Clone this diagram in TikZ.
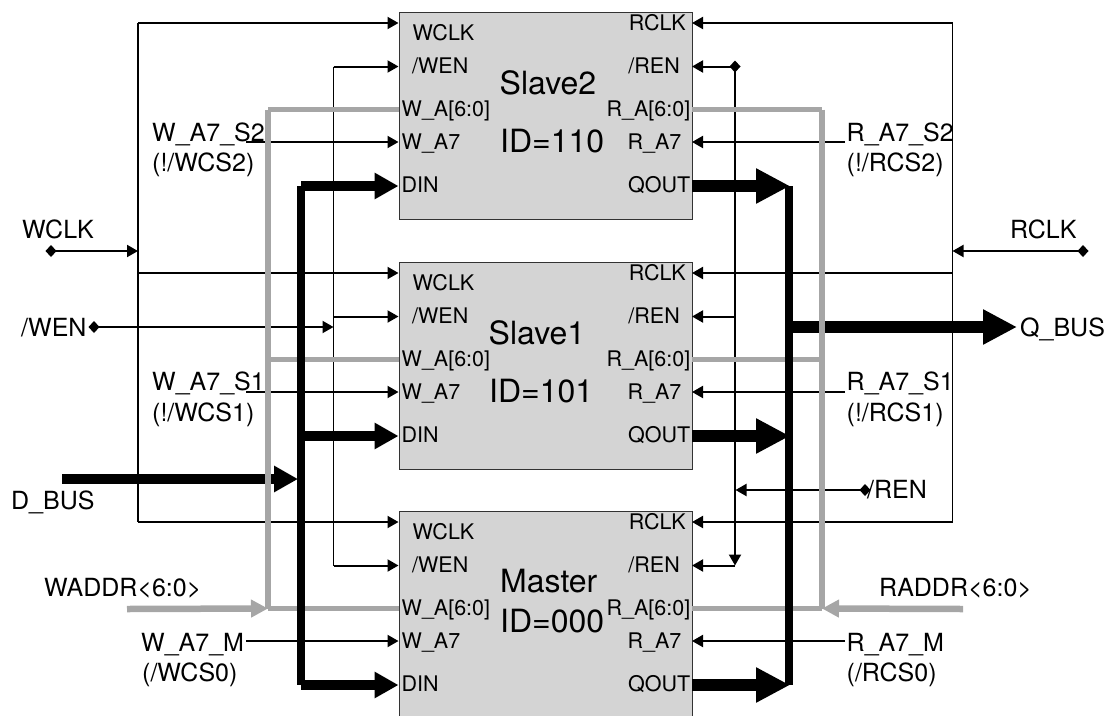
\documentclass[tikz,border=0pt]{standalone}
\usepackage{fontspec}
\setmainfont{TeX Gyre Heros}
\usetikzlibrary{arrows.meta}
\definecolor{busgray}{HTML}{A6A6A6}
\definecolor{blockgray}{HTML}{D4D4D4}
\tikzset{
  blockbox/.style={draw=black!80,line width=1pt,fill=blockgray,rectangle,inner sep=0pt,minimum width=293.5pt,minimum height=206.5pt,anchor=north west},
  outlab/.style={inner sep=0pt,anchor=base west,font=\fontsize{25}{25}\selectfont},
  pinl/.style={inner sep=0pt,anchor=base west,font=\fontsize{21.5}{21.5}\selectfont},
  pinr/.style={inner sep=0pt,anchor=base east,font=\fontsize{21.5}{21.5}\selectfont},
  biglab/.style={inner sep=0pt,anchor=base west,font=\fontsize{32}{32}\selectfont},
  wire/.style={line width=1.5pt,draw=black},
  sig/.style={line width=2pt,draw=black,-{Triangle[length=11pt,width=12pt]}},
  insig/.style={line width=2pt,draw=black,{Diamond[length=11pt,width=12pt]}-{Triangle[length=11pt,width=12pt]}},
  graybus/.style={line width=5.2pt,draw=busgray},
  grayin/.style={line width=6.5pt,draw=busgray,-{Triangle[length=17pt,width=17pt,fill=busgray,color=busgray]}},
  blackbus/.style={line width=8pt,draw=black},
  dinarrow/.style={line width=9.5pt,draw=black,-{Triangle[length=24pt,width=25pt]}},
  qarrow/.style={line width=11.5pt,draw=black,-{Triangle[length=34pt,width=33pt]}},
}
\begin{document}
\begin{tikzpicture}[x=1pt,y=-1pt]
\useasboundingbox (0,0) rectangle (1107,715);
\clip (0,0) rectangle (1107,715);
% blocks and their ports
\foreach \b/\T in {s2/12,s1/262,m/511}{
  \node[blockbox] (\b) at (398.5,\T) {};
  \coordinate (\b-wclk) at (398.5,\T+11);
  \coordinate (\b-wen)  at (398.5,\T+54.5);
  \coordinate (\b-wa)   at (398.5,\T+97.5);
  \coordinate (\b-wa7)  at (398.5,\T+130);
  \coordinate (\b-din)  at (398.5,\T+174);
  \coordinate (\b-rclk) at (692,\T+11);
  \coordinate (\b-ren)  at (692,\T+54.5);
  \coordinate (\b-ra)   at (692,\T+97.5);
  \coordinate (\b-ra7)  at (692,\T+130);
  \coordinate (\b-qout) at (692,\T+174);
  % rails
  \coordinate (\b-wl) at (138,\T+11);
  \coordinate (\b-rl) at (952.5,\T+11);
  \coordinate (\b-wn) at (333.5,\T+54.5);
  \coordinate (\b-rn) at (735,\T+54.5);
  \coordinate (\b-gl) at (268,\T+97.5);
  \coordinate (\b-gr) at (822,\T+97.5);
  \coordinate (\b-bl) at (301,\T+174);
  \coordinate (\b-br) at (789,\T+174);
  \coordinate (\b-a7l) at (246,\T+130);
  \coordinate (\b-a7r) at (845,\T+130);
  % pin labels
  \node[pinl] (\b-t1) at (412.5,\T+28) {WCLK};
  \node[pinl] (\b-t2) at (412,\T+61) {/WEN};
  \node[pinl] (\b-t3) at (401.5,\T+104.5) {W\_A[6:0]};
  \node[pinl] (\b-t4) at (401.5,\T+137) {W\_A7};
  \node[pinl] (\b-t5) at (401.5,\T+180) {DIN};
  \node[pinr] (\b-t6) at (686,\T+18) {RCLK};
  \node[pinr] (\b-t7) at (680,\T+61) {/REN};
  \node[pinr] (\b-t8) at (690.5,\T+104.5) {R\_A[6:0]};
  \node[pinr] (\b-t9) at (681.5,\T+137) {R\_A7};
  \node[pinr] (\b-t10) at (690.5,\T+180) {QOUT};
}
\coordinate (wclk-in) at (45.5,251);
\coordinate (wl-j) at (138,251);
\coordinate (rclk-in) at (1088.5,251);
\coordinate (rl-j) at (952.5,251);
\coordinate (wen-in) at (88.5,327);
\coordinate (wn-j) at (333.5,327);
\coordinate (ren-in) at (870.5,490);
\coordinate (rn-j) at (735.5,490);
\coordinate (rn-top) at (735,66.5);
\coordinate (rn-topd) at (740.5,66.5);
\coordinate (dbus-in) at (62,479);
\coordinate (dbus-j) at (298,479);
\coordinate (qbus-j) at (789,327);
\coordinate (qbus-out) at (1017,327);
\coordinate (waddr-in) at (127,609);
\coordinate (raddr-in) at (963,609);
% thin signals
\draw[wire] (s2-wl) -- (m-wl);
\draw[wire] (s2-rl) -- (m-rl);
\draw[wire] (s2-wn) -- (m-wn);
\draw[sig] (rn-top) -- (m-rn);
\foreach \b in {s2,s1,m}{
  \draw[sig] (\b-wl) -- (\b-wclk);
  \draw[sig] (\b-rl) -- (\b-rclk);
  \draw[sig] (\b-wn) -- (\b-wen);
  \draw[sig] (\b-a7l) -- (\b-wa7);
  \draw[sig] (\b-a7r) -- (\b-ra7);
}
\draw[sig] (s1-rn) -- (s1-ren);
\draw[sig] (m-rn) -- (m-ren);
\draw[insig] (rn-topd) -- (s2-ren);
\draw[insig] (wclk-in) -- (wl-j);
\draw[insig] (rclk-in) -- (rl-j);
\draw[insig] (wen-in) -- (wn-j);
\draw[insig] (ren-in) -- (rn-j);
% black bus branches
\draw[dinarrow] (dbus-in) -- (dbus-j);
\draw[qarrow] (qbus-j) -- (qbus-out);
\foreach \b in {s2,s1,m}{
  \draw[dinarrow] (\b-bl) -- (\b-din);
  \draw[qarrow] (\b-qout) -- ([xshift=1pt]\b-br);
}
% gray address buses
\draw[graybus] (s2-gl) -- (m-gl);
\draw[graybus] (s2-gr) -- (m-gr);
\foreach \b in {s2,s1,m}{
  \draw[graybus] (\b-gl) -- (\b-wa);
  \draw[graybus] (\b-ra) -- (\b-gr);
}
\draw[grayin] (waddr-in) -- (m-gl);
\draw[grayin] (raddr-in) -- (m-gr);
% black bus trunks
\draw[blackbus] (s2-bl) -- (m-bl);
\draw[blackbus] (s2-br) -- (m-br);
% large block titles
\node[biglab] (t-s2a) at (499.5,94) {Slave2};
\node[biglab] (t-s2b) at (500,152.5) {ID=110};
\node[biglab] (t-s1a) at (488.5,344) {Slave1};
\node[biglab] (t-s1b) at (489,402.5) {ID=101};
\node[biglab] (t-ma) at (500,592.5) {Master};
\node[biglab] (t-mb) at (500,632.5) {ID=000};
% outer labels
\node[outlab] (l1) at (22,238) {WCLK};
\node[outlab] (l2) at (1010,238) {RCLK};
\node[outlab] (l3) at (21,336) {/WEN};
\node[outlab] (l4) at (152,141) {W\_A7\_S2};
\node[outlab] (l5) at (152,171.5) {(!/WCS2)};
\node[outlab] (l6) at (846.5,141) {R\_A7\_S2};
\node[outlab] (l7) at (846.5,171.5) {(!/RCS2)};
\node[outlab] (l8) at (152,390.5) {W\_A7\_S1};
\node[outlab] (l9) at (152,421) {(!/WCS1)};
\node[outlab] (l10) at (846.5,390.5) {R\_A7\_S1};
\node[outlab] (l11) at (846.5,421) {(!/RCS1)};
\node[outlab] (l12) at (1020,336.5) {Q\_BUS};
\node[outlab] (l13) at (11,509) {D\_BUS};
\node[outlab] (l14) at (867,498) {/REN};
\node[outlab] (l15) at (44,596.5) {WADDR<6:0>};
\node[outlab] (l16) at (879,596.5) {RADDR<6:0>};
\node[outlab] (l17) at (141,651) {W\_A7\_M};
\node[outlab] (l18) at (142,681.5) {(/WCS0)};
\node[outlab] (l19) at (846.5,651) {R\_A7\_M};
\node[outlab] (l20) at (846.5,681.5) {(/RCS0)};
\end{tikzpicture}
\end{document}
